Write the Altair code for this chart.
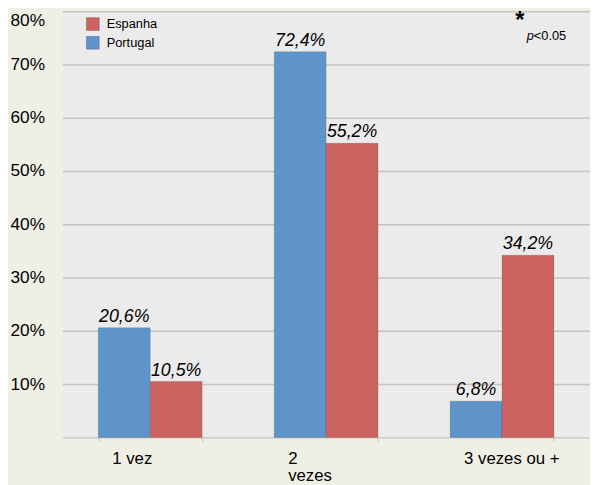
import altair as alt
import pandas as pd

categories = ["1 vez", "2|vezes", "3 vezes ou +"]
portugal = [20.6, 72.4, 6.8]
espanha = [10.5, 55.2, 34.2]
series = ["Espanha", "Portugal"]
colors = ["#cd6360", "#5f94ca"]
y_ticks = [10, 20, 30, 40, 50, 60, 70, 80]

rows = []
for c, p, e in zip(categories, portugal, espanha):
    rows.append({"cat": c, "pais": "Portugal", "v": p})
    rows.append({"cat": c, "pais": "Espanha", "v": e})
df = pd.DataFrame(rows)

FONT = "Liberation Sans"

x_enc = alt.X("cat:N", sort=categories, title=None,
              scale=alt.Scale(paddingInner=0.41, paddingOuter=0.205),
              axis=alt.Axis(labelAngle=0, labelAlign="left", labelOffset=-39,
                            labelExpr="split(datum.label, '|')",
                            labelFontSize=17, labelColor="black", labelFont=FONT,
                            labelPadding=9, labelLineHeight=17.5,
                            domainColor="#c4c4c4", domainWidth=1.5,
                            tickBand="extent", tickSize=4, tickColor="#c4c4c4"))
xo = alt.XOffset("pais:N", sort=["Portugal", "Espanha"], scale=alt.Scale(paddingInner=0))
y_enc = alt.Y("v:Q", title=None, scale=alt.Scale(domain=[0, 80], nice=False),
              axis=alt.Axis(values=y_ticks, labelExpr="datum.value + '%'",
                            labelFontSize=17.5, labelColor="black", labelFont=FONT,
                            labelBaseline=alt.condition("datum.value == 80",
                                                        alt.value("top"), alt.value("middle")),
                            labelPadding=18, ticks=False, domain=False,
                            gridColor="#c4c4c4", gridWidth=1.5))

bars = alt.Chart(df).mark_bar(stroke="#00000022", strokeWidth=1).encode(
    x=x_enc, xOffset=xo, y=y_enc,
    color=alt.Color("pais:N", scale=alt.Scale(domain=series, range=colors),
                    legend=alt.Legend(title=None, orient="none", legendX=24, legendY=6,
                                      symbolType="square", symbolSize=169,
                                      symbolStrokeWidth=1, symbolStrokeColor="#00000033",
                                      labelFontSize=13, labelFont=FONT, labelColor="black",
                                      labelOffset=7, rowPadding=1)),
)

labels = alt.Chart(df).transform_calculate(
    lab="replace(format(datum.v, '.1f'), '.', ',') + '%'"
).mark_text(baseline="bottom", dy=-2, fontSize=18, fontStyle="italic", font=FONT,
            color="black").encode(
    x=alt.X("cat:N", sort=categories), xOffset=xo, y="v:Q", text="lab:N")

ann = pd.DataFrame({"t": ["*"]})
star = alt.Chart(ann).mark_text(fontSize=24, fontWeight="bold", font=FONT, color="black",
                                align="center", baseline="middle").encode(
    x=alt.value(464), y=alt.value(10), text="t:N")
p_it = alt.Chart(pd.DataFrame({"t": ["p"]})).mark_text(
    fontSize=13, fontStyle="italic", font=FONT, color="black", align="left",
    baseline="middle").encode(x=alt.value(471), y=alt.value(25), text="t:N")
p_rest = alt.Chart(pd.DataFrame({"t": ["<0.05"]})).mark_text(
    fontSize=13, font=FONT, color="black", align="left",
    baseline="middle").encode(x=alt.value(478), y=alt.value(25), text="t:N")

chart = alt.layer(bars, labels, star, p_it, p_rest).properties(
    width=535, height=432,
    background="#f0efe6",
    padding={"left": 55, "top": 0, "right": 0, "bottom": 45},
    autosize=alt.AutoSizeParams(type="none"),
).configure_view(fill="#ebebeb", stroke=None)

chart.save("out.html", embed_options={"renderer": "svg", "actions": False})
